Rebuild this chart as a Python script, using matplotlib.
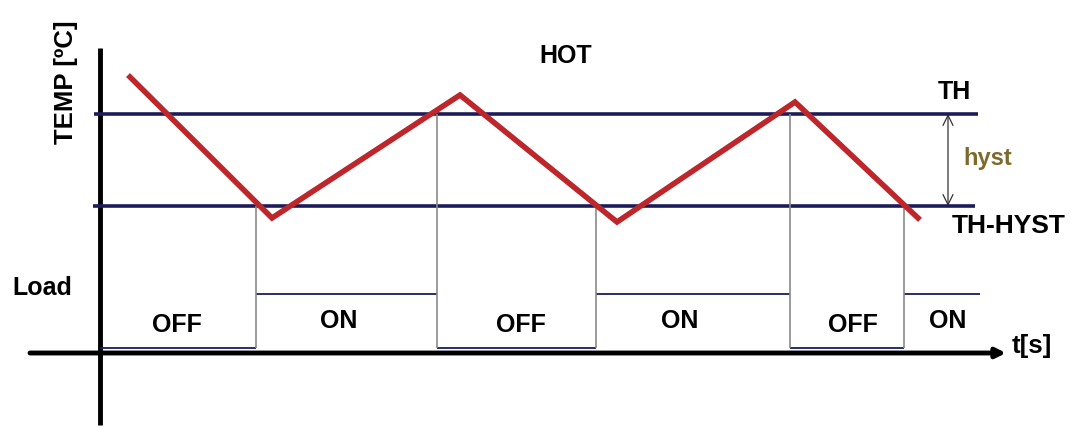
"""
Hysteresis thermostat: temperature swinging between TH and TH-HYST and the load state.
"""

import matplotlib.pyplot as plt
from matplotlib.patches import FancyArrowPatch

plt.rcParams['font.family'] = ['Liberation Sans', 'DejaVu Sans']

# temperature trace (time, temperature) in drawing units
temp_t = [130, 272, 460, 617, 795, 918]
temp_v = [353, 212, 335, 208, 328, 212]

# thresholds
th = 316
th_hyst = 224

# load switching
switch_t = [100, 256, 437, 596, 790, 904, 980]
load_state = ['OFF', 'ON', 'OFF', 'ON', 'OFF', 'ON']
load_low = 82
load_high = 136

axis_y = 77
axis_x = 100

navy = '#1c1c5c'
red = '#bd262a'

fig = plt.figure(figsize=(10.71, 4.30), dpi=100)
ax = fig.add_axes([0, 0, 1, 1])
ax.set_xlim(0, 1071)
ax.set_ylim(0, 430)
ax.axis('off')

# axes
ax.plot([axis_x, axis_x], [5, 382], color='black', lw=3.5, solid_capstyle='butt')
ax.annotate('', xy=(1006, axis_y), xytext=(30, axis_y),
            arrowprops=dict(arrowstyle='-|>', color='black', lw=3.5,
                            mutation_scale=14, shrinkA=0, shrinkB=0))

# threshold lines
ax.hlines([th, th_hyst], [94, 93], [978, 975], color=navy, lw=2.6)

# load signal
label_x = [177, 339, 521, 680, 853, 948]
for i, state in enumerate(load_state):
    level = load_high if state == 'ON' else load_low
    ax.hlines(level, switch_t[i], switch_t[i + 1], color=navy, lw=1.3)
    ty = 109 if state == 'ON' else 105
    ax.text(label_x[i], ty, state, ha='center', va='center', fontsize=18, fontweight='bold')
    if i > 0:
        top = th_hyst if state == 'ON' else th
        ax.vlines(switch_t[i], load_low, top, color='#8a8a8a', lw=1.2)

# temperature trace
ax.plot(temp_t, temp_v, color=red, lw=4, solid_joinstyle='miter')

# hysteresis arrow
ax.add_patch(FancyArrowPatch((948, th), (948, th_hyst), arrowstyle='<->',
                             mutation_scale=18, color='#333333', lw=0.9,
                             shrinkA=0, shrinkB=0))

# labels
ax.text(66, 348, 'TEMP [ºC]', rotation=90, ha='center', va='center',
        fontsize=18.5, fontweight='bold')
ax.text(42, 142, 'Load', ha='center', va='center', fontsize=18, fontweight='bold')
ax.text(566, 374, 'HOT', ha='center', va='center', fontsize=18, fontweight='bold')
ax.text(954, 338, 'TH', ha='center', va='center', fontsize=18, fontweight='bold')
ax.text(988, 272, 'hyst', ha='center', va='center', fontsize=17, fontweight='bold',
        color='#7d6b2e')
ax.text(1009, 204, 'TH-HYST', ha='center', va='center', fontsize=19, fontweight='bold')
ax.text(1032, 84, 't[s]', ha='center', va='center', fontsize=18.5, fontweight='bold')

fig.savefig('out.png', dpi=100)
